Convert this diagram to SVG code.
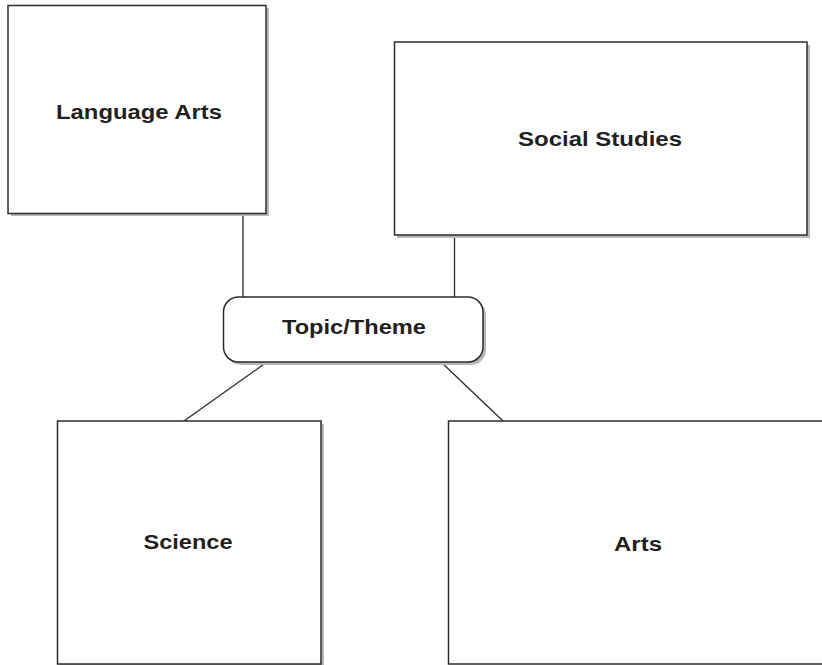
<svg xmlns="http://www.w3.org/2000/svg" width="822" height="665" viewBox="0 0 822 665">
<style>
.box{fill:#fff;stroke:#2b2b2b;stroke-width:1.5}
.sh{fill:#b8b8b8}
.lbl{font-family:"Liberation Sans",Arial,sans-serif;font-weight:bold;font-size:21px;fill:#231f20;text-anchor:middle}
.con{stroke:#2b2b2b;stroke-width:1.3;fill:none}
</style>
<rect width="822" height="665" fill="#fff"/>
<g id="connectors">
<line class="con" x1="243" y1="213" x2="243" y2="297"/>
<line class="con" x1="454.5" y1="235" x2="454.5" y2="297"/>
<line class="con" x1="267" y1="362" x2="184" y2="421"/>
<line class="con" x1="441" y1="362" x2="503" y2="421"/>
</g>
<g id="language-arts">
<rect class="sh" x="11" y="8" width="258" height="208"/>
<rect class="box" x="8" y="5.5" width="258" height="208"/>
<text class="lbl" x="139" y="119" textLength="166" lengthAdjust="spacingAndGlyphs">Language Arts</text>
</g>
<g id="social-studies">
<rect class="sh" x="397" y="45" width="413" height="193"/>
<rect class="box" x="394.5" y="42" width="412.5" height="193"/>
<text class="lbl" x="600" y="146" textLength="164" lengthAdjust="spacingAndGlyphs">Social Studies</text>
</g>
<g id="topic-theme">
<rect class="sh" x="226" y="300" width="260" height="65" rx="15"/>
<rect class="box" x="223.5" y="297" width="259.5" height="65" rx="15"/>
<text class="lbl" x="354" y="334" textLength="144" lengthAdjust="spacingAndGlyphs">Topic/Theme</text>
</g>
<g id="science">
<rect class="sh" x="60" y="424" width="264" height="245"/>
<rect class="box" x="57.5" y="421" width="263.5" height="243"/>
<text class="lbl" x="188" y="549" textLength="89" lengthAdjust="spacingAndGlyphs">Science</text>
</g>
<g id="arts">
<rect class="box" x="448.5" y="421" width="380" height="243"/>
<text class="lbl" x="638" y="551" textLength="48" lengthAdjust="spacingAndGlyphs">Arts</text>
</g>
</svg>
